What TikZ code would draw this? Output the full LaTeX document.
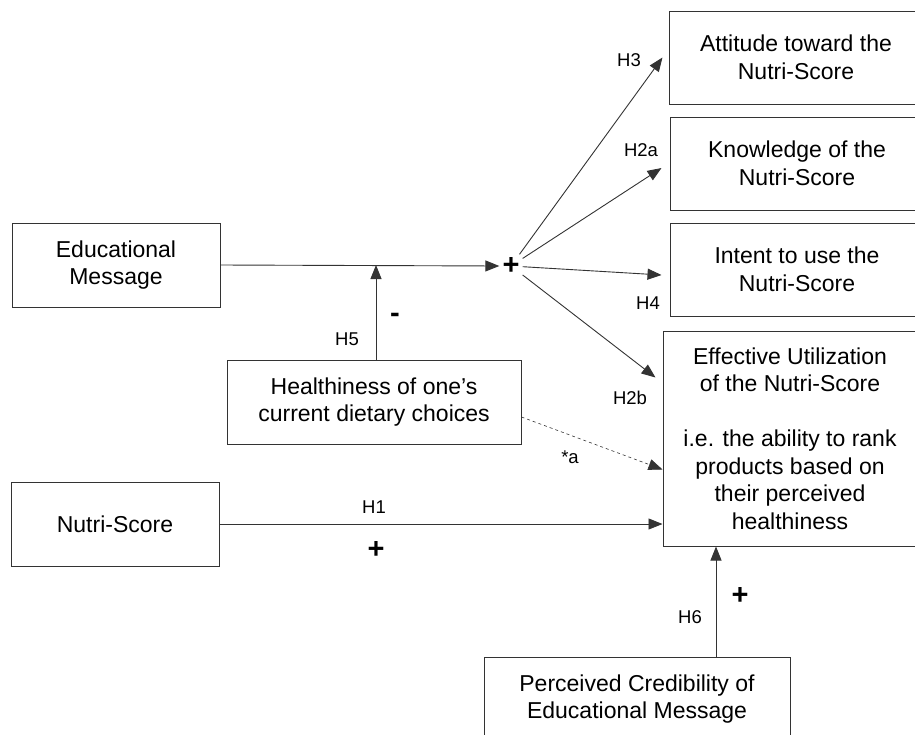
\documentclass[tikz,border=0pt]{standalone}
\usepackage{fontspec}
\setmainfont{Liberation Sans}
\usepackage{tikz}
\usetikzlibrary{arrows.meta}

\begin{document}
\begin{tikzpicture}[
    x=1pt, y=-1pt,
    box/.style={draw=black!80, line width=1pt, align=center, inner sep=0pt, font=\fontsize{23}{27.5}\selectfont},
    arr/.style={-{Triangle[length=14pt, width=11pt]}, line width=0.9pt, draw=black!80},
    lbl/.style={font=\fontsize{18.5}{20}\selectfont, inner sep=0pt},
    sign/.style={font=\fontsize{29}{29}\selectfont\bfseries, inner sep=3pt}
]
\useasboundingbox (0,0) rectangle (915,734);
\clip (0,0) rectangle (915,734);

% outcome boxes on the right
\node[box, minimum width=254, minimum height=93] (attitude) at (796,57.5) {Attitude toward the\\Nutri-Score};
\node[box, minimum width=254, minimum height=93] (knowledge) at (797,163.5) {Knowledge of the\\Nutri-Score};
\node[box, minimum width=254, minimum height=93] (intent) at (797,269.5) {Intent to use the\\Nutri-Score};
\node[box, minimum width=254, minimum height=215] (effective) at (790,438.5) {Effective Utilization\\of the Nutri-Score\\[27.5pt]i.e. the ability to rank\\products based on\\their perceived\\healthiness};

% predictors
\node[box, minimum width=208, minimum height=84] (educational) at (116,265) {Educational\\Message};
\node[box, minimum width=294, minimum height=84] (healthiness) at (374,402) {Healthiness of one's\\current dietary choices};
\node[box, minimum width=208, minimum height=84] (nutri) at (115,524) {Nutri-Score};
\node[box, minimum width=306, minimum height=84] (credibility) at (637,699) {Perceived Credibility of\\Educational Message};

\node[sign] (plus) at (511,266) {+};

\draw[arr] (educational.east) -- (plus.west);
\draw[arr] ([xshift=2pt]healthiness.north) -- ([xshift=2pt]healthiness.north |- educational.east);
\draw[arr] (plus) -- ([xshift=-6pt]attitude.west);
\draw[arr] (plus) -- ([xshift=-8pt, yshift=-4.5pt]knowledge.west);
\draw[arr] (plus) -- ([xshift=-8pt, yshift=-5.5pt]intent.west);
\draw[arr] (plus) -- ([xshift=-7pt, yshift=-47pt]effective.north west);
\draw[arr, dashed, line width=0.6pt] ([yshift=-15pt]healthiness.east) -- ([yshift=-139pt]effective.north west);
\draw[arr] (nutri.east) -- (nutri.east -| effective.west);
\draw[arr] ([xshift=79pt]credibility.north) -- ([xshift=79pt]credibility.north |- effective.south);

% hypothesis labels and signs
\node[lbl] (h3) at (629,60) {H3};
\node[lbl] (h2a) at (641,150) {H2a};
\node[lbl] (h4) at (648,303) {H4};
\node[lbl] (h2b) at (630,398) {H2b};
\node[lbl] (stara) at (570,457) {*a};
\node[lbl] (h1) at (374,507) {H1};
\node[lbl] (h5) at (347,339) {H5};
\node[lbl] (h6) at (690,617) {H6};
\node[sign] (signh1) at (376,550) {+};
\node[sign] (signh5) at (395,318) {-};
\node[sign] (signh6) at (740,596) {+};
\end{tikzpicture}
\end{document}
